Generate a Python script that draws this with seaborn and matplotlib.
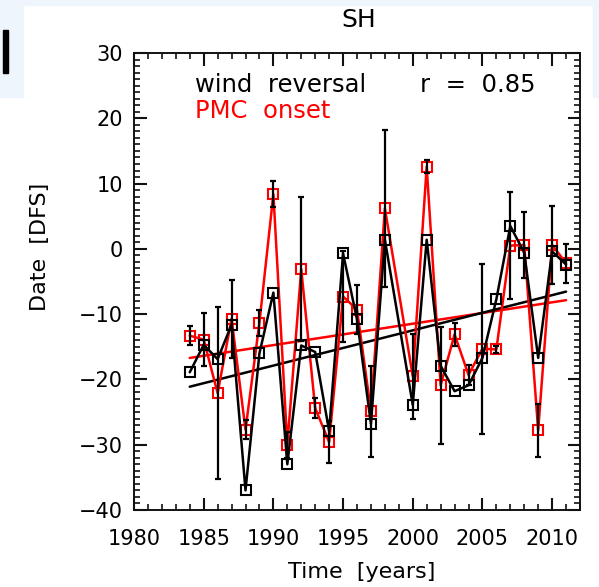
import numpy as np
import pandas as pd
import seaborn as sns
import matplotlib
matplotlib.use("Agg")
from matplotlib import pyplot as plt
from matplotlib.patches import Rectangle
from matplotlib.ticker import MultipleLocator

# ---------------- data ----------------
# 1999 has no data point in the original (lines jump 1998 -> 2000)
years = [1984, 1985, 1986, 1987, 1988, 1989, 1990, 1991, 1992, 1993,
         1994, 1995, 1996, 1997, 1998, 2000, 2001, 2002, 2003, 2004,
         2005, 2006, 2007, 2008, 2009, 2010, 2011]

wind_reversal = [-18.9, -14.7, -16.9, -11.6, -37.0, -16.0, -6.7, -33.0, -14.8, -15.8,
                 -27.9, -0.7, -10.8, -26.8, 1.4, -23.9, 1.4, -17.9, -21.8, -20.9,
                 -16.7, -7.7, 3.5, -0.6, -16.7, -0.4, -2.4]

pmc_onset = [-13.3, -13.9, -22.1, -10.7, -27.7, -11.3, 8.4, -30.0, -3.1, -24.4,
             -29.6, -7.3, -9.3, -24.9, 6.2, -19.5, 12.6, -20.9, -13.1, -19.3,
             -15.3, -15.4, 0.5, 0.6, -27.8, 0.6, -2.2]

pmc_err = [1.5, 4.1, 13.2, 6.0, 1.5, 2.0, 2.0, 2.0, 11.0, 1.5,
           3.2, 7.0, 3.7, 7.0, 12.0, 6.5, 1.0, 9.0, 1.8, 1.5,
           13.0, 0.5, 8.2, 5.1, 4.1, 6.0, 3.0]

corr_text = "r  =  0.85"

df = pd.DataFrame({"year": years, "wind": wind_reversal,
                   "pmc": pmc_onset, "err": pmc_err})

# ---------------- figure ----------------
sns.set_style("ticks")
plt.rcParams['font.family'] = ['DejaVu Sans']
plt.rcParams['text.color'] = 'black'

fig = plt.figure(figsize=(5.99, 5.87), dpi=100, facecolor="white")

# light blue frame strips of the screenshot
bg = "#eef5fc"
fig.patches.append(Rectangle((0, 1 - 5 / 587), 1, 5 / 587, transform=fig.transFigure,
                             color=bg, zorder=-1))
fig.patches.append(Rectangle((0, 1 - 97 / 587), 23 / 599, 97 / 587, transform=fig.transFigure,
                             color=bg, zorder=-1))
fig.patches.append(Rectangle((593 / 599, 1 - 97 / 587), 6 / 599, 97 / 587, transform=fig.transFigure,
                             color=bg, zorder=-1))
fig.patches.append(Rectangle((3 / 599, 1 - 73 / 587), 5 / 599, 43 / 587, transform=fig.transFigure,
                             color="black", zorder=-1))

ax = fig.add_axes([134 / 599, 77 / 587, 446 / 599, 457 / 587])

# regression lines
sns.regplot(data=df, x="year", y="pmc", ax=ax, scatter=False, ci=None, truncate=True,
            line_kws=dict(color="red", lw=1.8, zorder=2))
sns.regplot(data=df, x="year", y="wind", ax=ax, scatter=False, ci=None, truncate=True,
            line_kws=dict(color="black", lw=1.8, zorder=2))

# series
sns.lineplot(data=df, x="year", y="pmc", ax=ax, color="red", lw=1.8, marker="s",
             markersize=7, markerfacecolor="none", markeredgecolor="red",
             markeredgewidth=1.5, estimator=None, sort=False, zorder=3)
ax.errorbar(df["year"], df["pmc"], yerr=df["err"], fmt="none", ecolor="black",
            elinewidth=1.6, capsize=2.5, capthick=1.6, zorder=4)
sns.lineplot(data=df, x="year", y="wind", ax=ax, color="black", lw=1.8, marker="s",
             markersize=7, markerfacecolor="none", markeredgecolor="black",
             markeredgewidth=1.5, estimator=None, sort=False, zorder=5)

ax.set_xlabel("")
ax.set_ylabel("")
ax.set_xlim(1980, 2012)
ax.set_ylim(-40, 30)
ax.xaxis.set_major_locator(MultipleLocator(5))
ax.xaxis.set_minor_locator(MultipleLocator(1))
ax.yaxis.set_major_locator(MultipleLocator(10))
ax.yaxis.set_minor_locator(MultipleLocator(1))
ax.set_axisbelow(False)
for s in ax.spines.values():
    s.set_linewidth(1.3)
    s.set_color("black")

# inward ticks on all four sides, IDL style
ax.tick_params(which="both", direction="in", top=True, right=True,
               bottom=True, left=True, color="#111111", labelcolor="black",
               labelsize=15)
ax.tick_params(which="major", length=9, width=1.5)
ax.tick_params(which="minor", length=4.5, width=1.2)
ax.tick_params(axis="x", which="major", pad=14)
ax.tick_params(axis="y", which="major", pad=8)

fig.text(359 / 599, 1 - 20 / 587, "SH", ha="center", va="center", fontsize=18)
fig.text(362 / 599, 1 - 572 / 587, "Time  [years]", ha="center", va="center", fontsize=16)
fig.text(40 / 599, 1 - 247 / 587, "Date  [DFS]", ha="center", va="center", fontsize=16,
         rotation=90)

ax.text(0.137, 0.930, "wind  reversal", transform=ax.transAxes, fontsize=17.5,
        ha="left", va="center", color="black")
ax.text(0.137, 0.873, "PMC  onset", transform=ax.transAxes, fontsize=17.5,
        ha="left", va="center", color="red")
ax.text(0.641, 0.930, corr_text, transform=ax.transAxes, fontsize=17.5,
        ha="left", va="center", color="black")

fig.savefig("out.png", dpi=100, facecolor=fig.get_facecolor())
